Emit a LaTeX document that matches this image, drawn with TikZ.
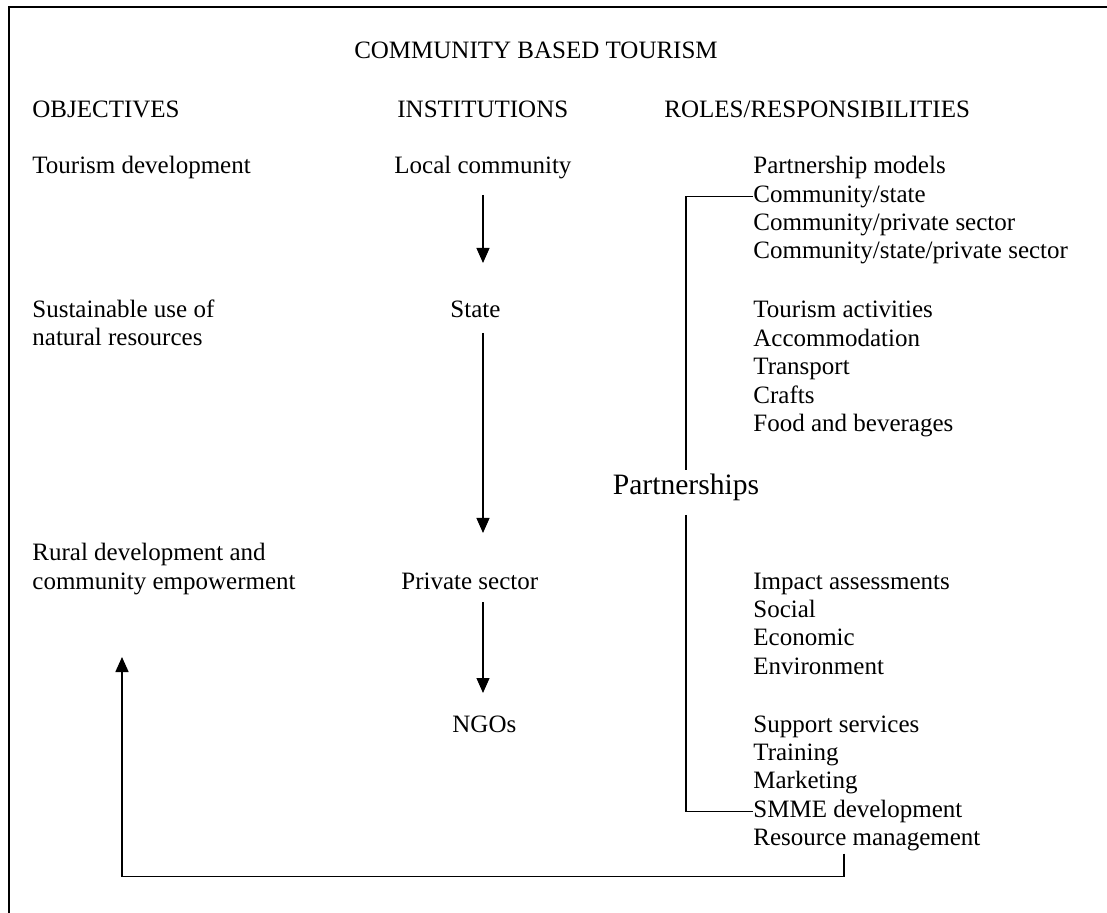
\documentclass[tikz,border=0pt]{standalone}
\usepackage{fontspec}
\setmainfont{Liberation Serif}
\usetikzlibrary{arrows.meta, positioning, calc}

\begin{document}
\begin{tikzpicture}[x=0.5pt, y=-0.5pt,
  txt/.style={anchor=base west, inner sep=0pt, font=\fontsize{12.5}{14.2}\selectfont},
  arr/.style={line width=0.6pt, -{Triangle[length=7.5pt, width=6.5pt]}},
  link/.style={line width=0.6pt}]
\useasboundingbox (0,0) rectangle (1107,913);

% Frame, top and left edge
\draw[line width=1pt] (1107,7) -- (9,7) -- (9,913);

% Title and column heads
\node[txt, anchor=base] (title) at (536,59) {COMMUNITY BASED TOURISM};
\node[txt] (obj) at (32,118) {OBJECTIVES};
\node[txt] (inst) at (397,118) {INSTITUTIONS};
\node[txt] (roles) at (664,118) {ROLES/RESPONSIBILITIES};

% Objectives
\node[txt] (tour) at (32,174) {Tourism development};
\node[txt] (sust1) at (32,318) {Sustainable use of};
\node[txt] (sust2) at (32,346) {natural resources};
\node[txt] (rural1) at (32,560) {Rural development and};
\node[txt] (rural2) at (32,589) {community empowerment};

% Institutions
\node[txt] (loc) at (394,174) {Local community};
\node[txt] (state) at (450,318) {State};
\node[txt] (priv) at (401,589) {Private sector};
\node[txt] (ngo) at (452,732) {NGOs};
\coordinate (axis) at (483,0);

\draw[arr] ($(loc.base -| axis)+(0,21)$) -- ($(state.base -| axis)+(0,-55)$);
\draw[arr] ($(state.base -| axis)+(0,15)$) -- ($(priv.base -| axis)+(0,-56)$);
\draw[arr] ($(priv.base -| axis)+(0,13)$) -- ($(ngo.base -| axis)+(0,-39)$);

% Roles / responsibilities
\foreach \i/\t in {0/Partnership models, 1/{Community/state}, 2/{Community/private sector}, 3/{Community/state/private sector}}
  \node[txt] (pm\i) at (753,{174+28.3*\i}) {\t};
\foreach \i/\t in {0/Tourism activities, 1/Accommodation, 2/Transport, 3/Crafts, 4/Food and beverages}
  \node[txt] (act\i) at (753,{318+28.4*\i}) {\t};
\foreach \i/\t in {0/Impact assessments, 1/Social, 2/Economic, 3/Environment}
  \node[txt] (imp\i) at (753,{589+28.4*\i}) {\t};
\foreach \i/\t in {0/Support services, 1/Training, 2/Marketing, 3/SMME development, 4/Resource management}
  \node[txt] (sup\i) at (753,{732+28.4*\i}) {\t};

% Partnerships bracket
\node[anchor=base, inner sep=0pt, font=\fontsize{14.8}{17}\selectfont] (ps) at (686,495) {Partnerships};
\draw[link] ($(pm1.base west)+(0,-6)$) -| ($(ps.base)+(0,-25)$);
\draw[link] ($(ps.base)+(0,20)$) |- ($(sup3.base west)+(0,-6)$);

% Feedback to rural development
\draw[arr, line width=0.8pt] ($(sup4.base west)+(91,8)$) -- ++(0,23) -| ($(rural2.base west)+(90,68)$);
\end{tikzpicture}
\end{document}
